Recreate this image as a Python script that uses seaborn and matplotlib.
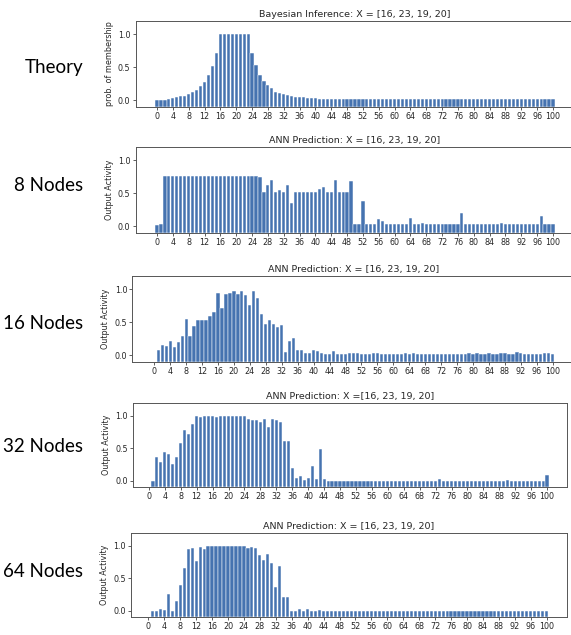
import numpy as np
import pandas as pd
import matplotlib
matplotlib.use("Agg")
import matplotlib.pyplot as plt
import seaborn as sns

# ---------------- data ----------------
pos_full = list(range(0, 101))
pos_from1 = list(range(1, 101))

theory = [
    0.010, 0.010, 0.012, 0.020, 0.030, 0.045, 0.060, 0.070, 0.090, 0.125,
    0.160, 0.220, 0.280, 0.390, 0.520, 0.710, 1.000, 1.000, 1.000, 1.000,
    1.000, 1.000, 1.000, 1.000, 0.710, 0.530, 0.390, 0.290, 0.230, 0.180,
    0.130, 0.110, 0.090, 0.075, 0.065, 0.055, 0.050, 0.045, 0.040, 0.035,
    0.030, 0.028, 0.025, 0.022, 0.020, 0.018, 0.016, 0.014, 0.014, 0.014,
    0.014, 0.014, 0.014, 0.014, 0.014, 0.014, 0.014, 0.014, 0.014, 0.014,
    0.014, 0.014, 0.014, 0.014, 0.014, 0.014, 0.014, 0.014, 0.014, 0.014,
    0.014, 0.014, 0.014, 0.014, 0.014, 0.014, 0.014, 0.014, 0.014, 0.014,
    0.014, 0.014, 0.014, 0.014, 0.014, 0.014, 0.014, 0.014, 0.014, 0.014,
    0.014, 0.014, 0.014, 0.014, 0.014, 0.014, 0.014, 0.014, 0.014, 0.014,
    0.014,
]

nodes8 = [
    0.015, 0.035, 0.76, 0.76, 0.76, 0.76, 0.76, 0.76, 0.76, 0.76,
    0.76, 0.76, 0.76, 0.76, 0.76, 0.76, 0.76, 0.76, 0.76, 0.76,
    0.76, 0.76, 0.76, 0.76, 0.76, 0.76, 0.74, 0.52, 0.63, 0.70,
    0.52, 0.55, 0.52, 0.63, 0.35, 0.52, 0.52, 0.52, 0.52, 0.52,
    0.52, 0.57, 0.59, 0.52, 0.52, 0.70, 0.52, 0.52, 0.52, 0.68,
    0.04, 0.035, 0.38, 0.03, 0.03, 0.03, 0.11, 0.08, 0.03, 0.03,
    0.03, 0.03, 0.03, 0.03, 0.13, 0.03, 0.03, 0.045, 0.03, 0.03,
    0.03, 0.03, 0.03, 0.03, 0.03, 0.03, 0.03, 0.20, 0.03, 0.03,
    0.03, 0.03, 0.03, 0.03, 0.03, 0.03, 0.03, 0.055, 0.03, 0.03,
    0.03, 0.04, 0.03, 0.03, 0.03, 0.03, 0.03, 0.15, 0.03, 0.03,
    0.03,
]

nodes16 = [
    0.085, 0.16, 0.145, 0.22, 0.12, 0.20, 0.29, 0.55, 0.29, 0.45,
    0.54, 0.53, 0.54, 0.59, 0.65, 0.94, 0.72, 0.93, 0.95, 0.975,
    0.93, 0.97, 0.91, 0.76, 0.97, 0.86, 0.63, 0.47, 0.53, 0.48,
    0.43, 0.46, 0.05, 0.21, 0.27, 0.085, 0.075, 0.03, 0.03, 0.075,
    0.065, 0.04, 0.02, 0.02, 0.06, 0.025, 0.025, 0.02, 0.035, 0.035,
    0.03, 0.02, 0.02, 0.02, 0.035, 0.03, 0.02, 0.02, 0.02, 0.02,
    0.02, 0.02, 0.03, 0.02, 0.03, 0.02, 0.02, 0.02, 0.02, 0.02,
    0.02, 0.02, 0.02, 0.02, 0.02, 0.02, 0.02, 0.02, 0.03, 0.02,
    0.03, 0.02, 0.02, 0.04, 0.02, 0.02, 0.03, 0.03, 0.02, 0.02,
    0.045, 0.03, 0.02, 0.02, 0.02, 0.02, 0.02, 0.035, 0.035, 0.02,
]

nodes32 = [
    0.0, 0.37, 0.29, 0.44, 0.41, 0.26, 0.37, 0.58, 0.78, 0.72,
    0.87, 1.0, 0.985, 1.0, 1.0, 1.0, 0.985, 1.0, 1.0, 1.0,
    1.0, 1.0, 1.0, 1.0, 0.96, 0.93, 0.93, 0.91, 0.96, 0.83,
    0.96, 0.94, 0.91, 0.61, 0.61, 0.20, 0.035, 0.07, 0.015, 0.045,
    0.225, 0.02, 0.49, 0.02, 0.0, 0.0, 0.0, 0.0, 0.0, 0.0,
    0.0, 0.0, 0.0, 0.0, 0.0, 0.0, 0.0, 0.0, 0.0, 0.0,
    0.0, 0.0, 0.0, 0.0, 0.0, 0.0, 0.0, 0.0, 0.0, 0.0,
    0.0, 0.0, 0.02, 0.0, 0.0, 0.0, 0.0, 0.0, 0.0, 0.0,
    0.0, 0.0, 0.0, 0.0, 0.0, 0.0, 0.0, 0.0, 0.0, 0.015,
    0.0, 0.0, 0.0, 0.0, 0.0, 0.0, 0.0, 0.0, 0.0, 0.08,
]

nodes64 = [
    0.0, 0.0, 0.025, 0.005, 0.25, 0.0, 0.15, 0.39, 0.66, 0.95,
    0.97, 0.77, 0.99, 0.96, 1.0, 1.0, 1.0, 1.0, 1.0, 1.0,
    1.0, 1.0, 1.0, 1.0, 0.97, 0.99, 0.97, 0.86, 0.78, 0.88,
    0.73, 0.37, 0.69, 0.205, 0.215, 0.0, 0.0, 0.025, 0.0, 0.025,
    0.0, 0.0, 0.015, 0.0, 0.0, 0.0, 0.0, 0.0, 0.0, 0.0,
    0.0, 0.0, 0.0, 0.0, 0.0, 0.0, 0.0, 0.0, 0.0, 0.0,
    0.0, 0.0, 0.0, 0.0, 0.0, 0.0, 0.0, 0.0, 0.0, 0.0,
    0.0, 0.0, 0.0, 0.0, 0.0, 0.0, 0.0, 0.0, 0.0, 0.0,
    0.0, 0.0, 0.0, 0.0, 0.0, 0.0, 0.0, 0.0, 0.0, 0.0,
    0.0, 0.0, 0.0, 0.0, 0.0, 0.0, 0.0, 0.0, 0.0, 0.0,
]

row_labels = ["Theory", "8 Nodes", "16 Nodes", "32 Nodes", "64 Nodes"]
titles = [
    "Bayesian Inference: X = [16, 23, 19, 20]",
    "ANN Prediction: X = [16, 23, 19, 20]",
    "ANN Prediction: X = [16, 23, 19, 20]",
    "ANN Prediction: X =[16, 23, 19, 20]",
    "ANN Prediction: X = [16, 23, 19, 20]",
]
ylabels = ["prob. of membership", "Output Activity", "Output Activity",
           "Output Activity", "Output Activity"]
xtick_vals = list(range(0, 101, 4))
ytick_vals = [0.0, 0.5, 1.0]

# ---------------- drawing ----------------
W, H = 571, 635
fig = plt.figure(figsize=(W / 100, H / 100), dpi=100)
fig.patch.set_facecolor("white")

BAR = "#4673b0"
FLOOR = -0.1
TXT = "#262626"

# (left, top, right, bottom) in pixels, x-limits, label baseline y
layout = [
    ((135.5, 21, 574.5, 107), (-5.44, 105.44), 72.5),
    ((135.5, 147, 574.5, 233), (-5.44, 105.44), 191),
    ((132.3, 276, 574.7, 362), (-5.5, 105.5), 329),
    ((133, 403, 567, 487), (-4.0, 105.0), 452),
    ((131, 533, 567, 617), (-4.35, 105.1), 577),
]
series = [
    (pos_full, theory),
    (pos_full, nodes8),
    (pos_from1, nodes16),
    (pos_from1, nodes32),
    (pos_from1, nodes64),
]

for i, ((L, T, R, B), xlim, ybase) in enumerate(layout):
    ax = fig.add_axes([L / W, 1 - B / H, (R - L) / W, (B - T) / H])
    xs, ys = series[i]
    df = pd.DataFrame({"pos": xs, "val": ys})
    sns.barplot(data=df, x="pos", y="val", native_scale=True, color=BAR,
                saturation=1, width=0.8, errorbar=None, linewidth=0.35,
                edgecolor="white", ax=ax)
    # bars rise from the floor of the axis
    for p in ax.patches:
        h = p.get_height()
        if np.isfinite(h):
            p.set_y(FLOOR)
            p.set_height(h - FLOOR)
    ax.set_xlim(*xlim)
    ax.set_ylim(FLOOR, 1.2)
    ax.set_xticks(xtick_vals)
    ax.set_xticklabels([str(v) for v in xtick_vals])
    ax.set_yticks(ytick_vals)
    ax.set_yticklabels([f"{v:.1f}" for v in ytick_vals])
    ax.tick_params(axis="both", labelsize=5.8, length=2.2, width=0.6,
                   pad=1.5, colors="#444444", labelcolor=TXT)
    ax.set_xlabel("")
    ax.set_ylabel(ylabels[i], fontsize=5.8, color=TXT, labelpad=3)
    ax.set_title(titles[i], fontsize=6.8, color=TXT, pad=3)
    for s in ax.spines.values():
        s.set_linewidth(0.7)
        s.set_color("#555555")
    ax.grid(False)
    ax.set_facecolor("white")

    fig.text(83 / W, 1 - ybase / H, row_labels[i], ha="right", va="baseline",
             fontsize=13.5, color="black", family=["Lato", "DejaVu Sans"])

fig.savefig("out.png", dpi=100, facecolor="white")
